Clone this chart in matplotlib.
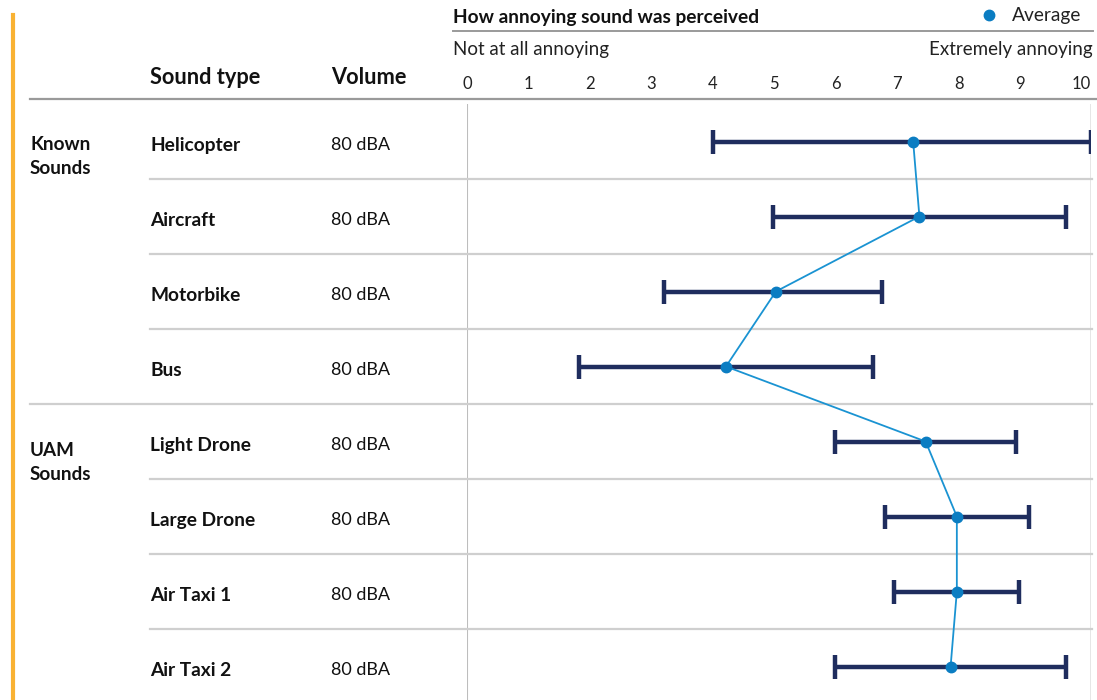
import numpy as np
import matplotlib.pyplot as plt
import matplotlib.transforms as mtransforms

plt.rcParams['font.family'] = ['Lato', 'DejaVu Sans']

# data
sounds = ['Helicopter', 'Aircraft', 'Motorbike', 'Bus',
          'Light Drone', 'Large Drone', 'Air Taxi 1', 'Air Taxi 2']
volumes = ['80 dBA'] * 8
groups = [['Known', 'Sounds'], ['UAM', 'Sounds']]
group_start = [0, 4]
low = [3.95, 4.9, 3.15, 1.8, 5.9, 6.7, 6.85, 5.9]
mean = [7.15, 7.25, 4.95, 4.15, 7.35, 7.85, 7.85, 7.75]
high = [10.0, 9.6, 6.65, 6.5, 8.8, 9.0, 8.85, 9.6]
ticks = list(range(0, 11))

W, H = 1097, 700
navy = '#1f2d5e'
blue = '#0b7dc2'
grid = '#cfcfcf'
txt = '#111111'

fig = plt.figure(figsize=(W / 100, H / 100), dpi=100)


def fx(px):
    return px / W


def fy(py):
    return 1 - py / H


# chart area
ax = fig.add_axes([fx(467), fy(700), fx(1091) - fx(467), (700 - 104) / H])
n = len(sounds)
ax.set_xlim(0, 10)
ax.set_ylim(n - 0.5 - 4 / 75, -0.5)
ax.axis('off')

y = np.arange(n)
ax.hlines(y, low, high, color=navy, lw=3.2, zorder=2)
ax.vlines(low, y - 0.16, y + 0.16, color=navy, lw=3.2, zorder=2)
ax.vlines(high, y - 0.16, y + 0.16, color=navy, lw=3.2, zorder=2)
ax.plot(mean, y, color='#1a93d2', lw=1.3, zorder=3, clip_on=False)
ax.plot(mean, y, color=blue, lw=0, marker='o', ms=7.5, zorder=4,
        clip_on=False)

# vertical borders of chart
ax.axvline(0, color='#bdbdbd', lw=1.5, zorder=1)
ax.axvline(10, color='#e2e2e2', lw=1.2, zorder=1)

# row separators
tr = mtransforms.blended_transform_factory(fig.transFigure, ax.transData)
for i in range(1, n):
    x0 = fx(30) if i in group_start else fx(150)
    ax.plot([x0, fx(1092)], [i - 0.5, i - 0.5], color=grid, lw=1.6,
            transform=tr, clip_on=False, zorder=1)

# row labels
for i in range(n):
    ax.text(fx(150), i + 0.05, sounds[i], transform=tr, fontsize=13.8,
            fontweight='bold', va='center', ha='left', color=txt)
    ax.text(fx(331), i + 0.05, volumes[i], transform=tr, fontsize=13,
            va='center', ha='left', color=txt)
for g, s in zip(groups, group_start):
    for k, line in enumerate(g):
        ax.text(fx(30), s + 0.04 + 0.08 * (s > 0) + 0.32 * k, line,
                transform=tr, fontsize=13.6, fontweight='bold',
                va='center', ha='left', color=txt)

# header
fig.text(fx(150), fy(78), 'Sound type', fontsize=15.7, fontweight='bold',
         va='center', ha='left', color=txt)
fig.text(fx(331), fy(78), 'Volume', fontsize=15.7, fontweight='bold',
         va='center', ha='left', color=txt)
fig.add_artist(plt.Line2D([fx(30), fx(1097)], [fy(99), fy(99)],
                          color='#9a9a9a', lw=1.6))

fig.text(fx(453), fy(17), 'How annoying sound was perceived', fontsize=13.8,
         fontweight='bold', va='center', ha='left', color=txt)
fig.add_artist(plt.Line2D([fx(453), fx(1093)], [fy(31), fy(31)],
                          color='#9a9a9a', lw=1.4))
fig.text(fx(453), fy(50), 'Not at all annoying', fontsize=13.5,
         va='center', ha='left', color='#222222')
fig.text(fx(1093), fy(50), 'Extremely annoying', fontsize=13.5,
         va='center', ha='right', color='#222222')

# tick labels above chart (printed slightly inside the plot span)
trx = mtransforms.blended_transform_factory(ax.transData, fig.transFigure)
for t in ticks:
    ax.text(t * 0.985, fy(84), str(t), transform=trx, fontsize=12,
            ha='center', va='center', color='#222222')

# legend
fig.add_artist(plt.Line2D([fx(989)], [fy(15)], marker='o', ms=7.5,
                          color=blue, lw=0))
fig.text(fx(1012), fy(16), 'Average', fontsize=13.8, va='center',
         ha='left', color='#222222')

# orange side bar
fig.add_artist(plt.Line2D([fx(13), fx(13)], [fy(15), fy(700)],
                          color='#f9b233', lw=3))

fig.savefig('out.png', dpi=100)
